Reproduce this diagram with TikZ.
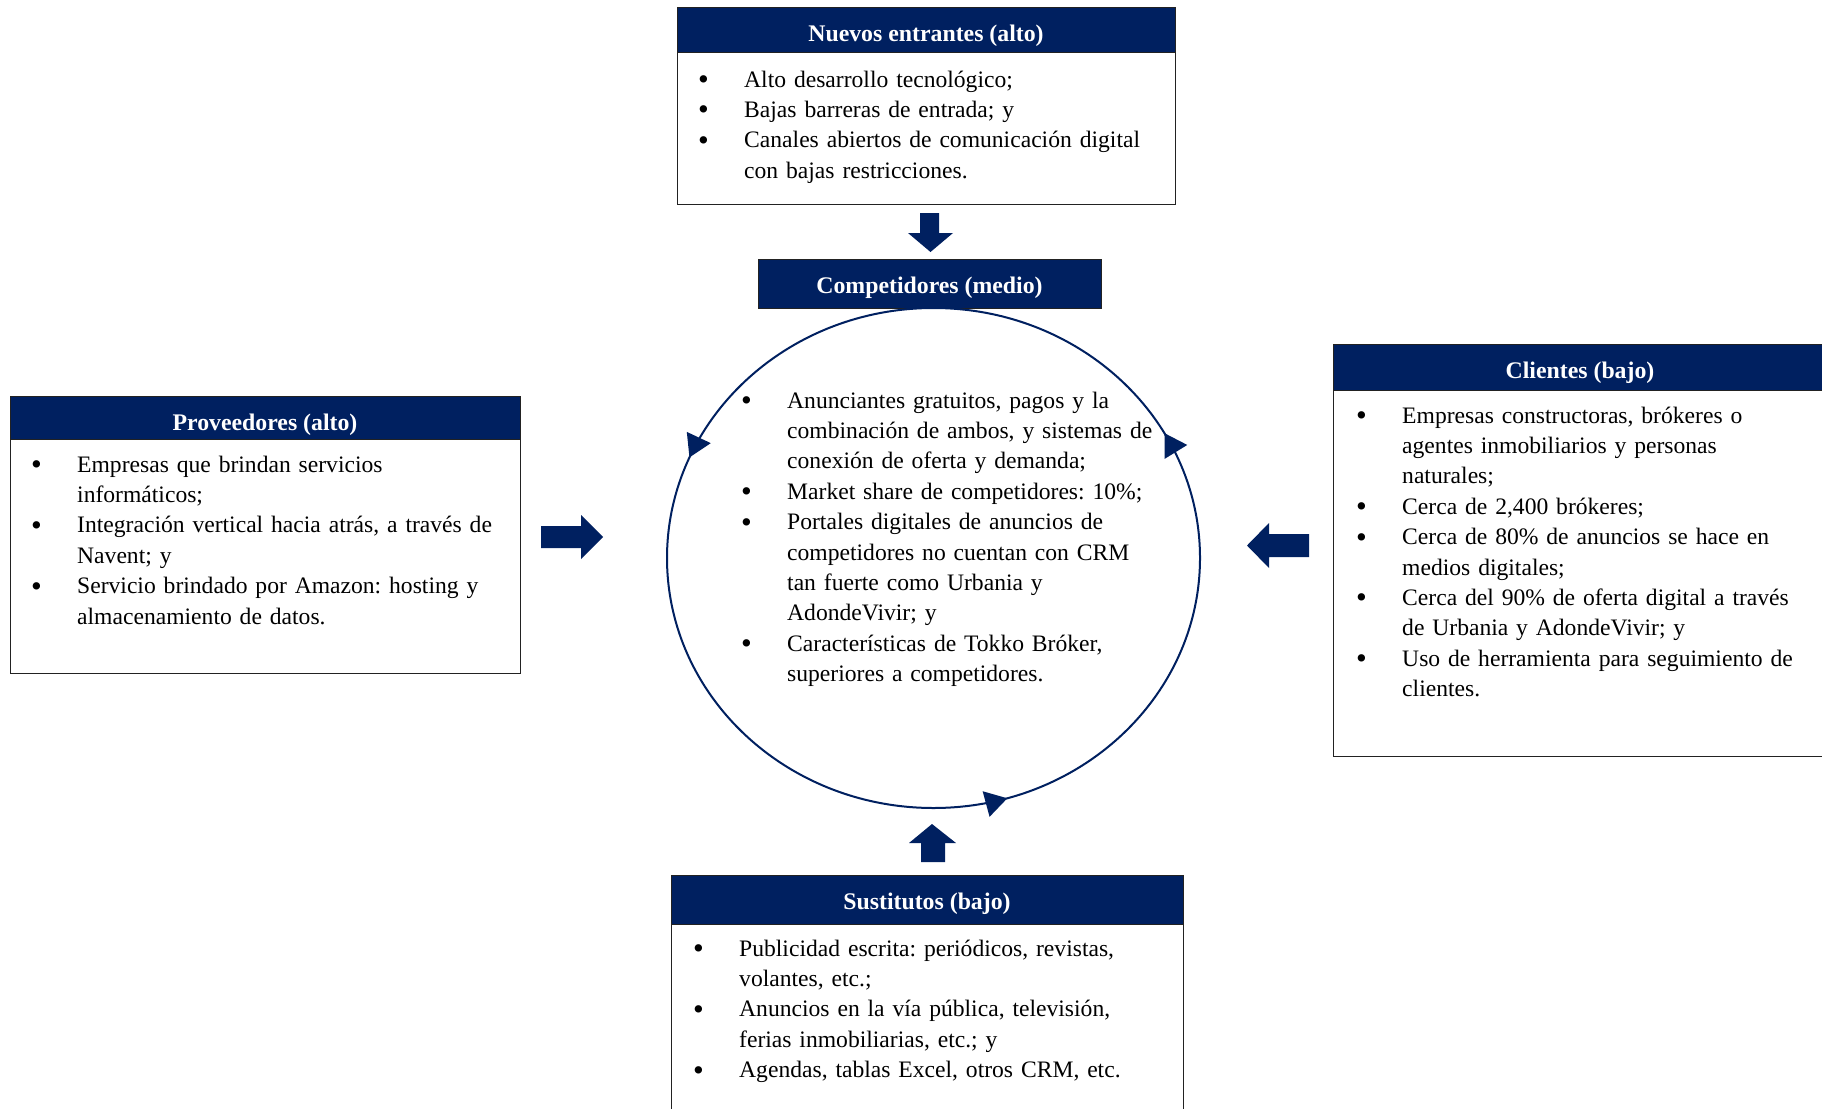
\documentclass[tikz,border=0pt]{standalone}
\usepackage{fontspec}
\setmainfont{Liberation Serif}
\usetikzlibrary{arrows.meta,decorations.markings}
\definecolor{navy}{HTML}{002060}
\definecolor{edge}{HTML}{222222}
\newcommand{\blt}{\makebox[46pt][l]{\raisebox{-2.5pt}{\scalebox{1.3}{\textbullet}}}}
\newcommand{\ind}{\hspace*{46pt}}
\frenchspacing
\begin{document}
\begin{tikzpicture}[x=1pt,y=-1pt,
  boxframe/.style={draw=edge,line width=1.3pt,fill=white,anchor=north west,inner sep=0pt},
  headbar/.style={draw=edge,line width=1.3pt,fill=navy,anchor=north west,inner sep=0pt},
  headtext/.style={anchor=base,text=white,inner sep=0pt,font=\fontsize{23.8}{26}\selectfont\bfseries},
  bodytext/.style={anchor=base west,inner sep=0pt,align=left,text width=560pt,font=\fontsize{23.6}{30.4}\selectfont\frenchspacing},
  blockarrow/.style={fill=navy,draw=none},
  cycletip/.style={decoration={markings,
     mark=at position 0.204 with {\arrowreversed{Triangle[length=22pt,width=26pt]}},
     mark=at position 0.564 with {\arrowreversed{Triangle[length=22pt,width=26pt]}},
     mark=at position 0.919 with {\arrowreversed{Triangle[length=22pt,width=26pt]}}},
     postaction={decorate}},
]
\clip (0,0) rectangle (1822,1108);
\fill[white] (0,0) rectangle (1822,1108);

% ---------- Nuevos entrantes ----------
\node[boxframe,minimum width=498pt,minimum height=197pt] (nbox) at (677,7) {};
\node[headbar,minimum width=498pt,minimum height=45pt] (nhead) at (677,7) {};
\node[headtext] (ntitle) at (926,42) {Nuevos entrantes (alto)};
\node[bodytext] (ntext) at (698,87) {%
\blt Alto desarrollo tecnológico;\\
\blt Bajas barreras de entrada; y\\
\blt Canales abiertos de comunicación digital\\
\ind con bajas restricciones.};

% ---------- Competidores ----------
\node[headbar,minimum width=343pt,minimum height=49pt] (chead) at (758,259) {};
\node[headtext] (ctitle) at (929.5,293) {Competidores (medio)};
\coordinate (cc) at (933.5,558);
\draw[navy,line width=2pt,cycletip] (cc) ellipse [x radius=266.5,y radius=250];
\node[bodytext] (ctext) at (741,408) {%
\blt Anunciantes gratuitos, pagos y la\\
\ind combinación de ambos, y sistemas de\\
\ind conexión de oferta y demanda;\\
\blt Market share de competidores: 10\%;\\
\blt Portales digitales de anuncios de\\
\ind competidores no cuentan con CRM\\
\ind tan fuerte como Urbania y\\
\ind AdondeVivir; y\\
\blt Características de Tokko Bróker,\\
\ind superiores a competidores.};

% ---------- Proveedores ----------
\node[boxframe,minimum width=510pt,minimum height=277pt] (pbox) at (10,396) {};
\node[headbar,minimum width=510pt,minimum height=43pt] (phead) at (10,396) {};
\node[headtext] (ptitle) at (265,430) {Proveedores (alto)};
\node[bodytext] (ptext) at (31,472) {%
\blt Empresas que brindan servicios\\
\ind informáticos;\\
\blt Integración vertical hacia atrás, a través de\\
\ind Navent; y\\
\blt Servicio brindado por Amazon: hosting y\\
\ind almacenamiento de datos.};

% ---------- Clientes ----------
\node[boxframe,minimum width=520pt,minimum height=412pt] (kbox) at (1333,344) {};
\node[headbar,minimum width=520pt,minimum height=46pt] (khead) at (1333,344) {};
\node[headtext] (ktitle) at (1580,378) {Clientes (bajo)};
\node[bodytext] (ktext) at (1356,423) {%
\blt Empresas constructoras, brókeres o\\
\ind agentes inmobiliarios y personas\\
\ind naturales;\\
\blt Cerca de 2,400 brókeres;\\
\blt Cerca de 80\% de anuncios se hace en\\
\ind medios digitales;\\
\blt Cerca del 90\% de oferta digital a través\\
\ind de Urbania y AdondeVivir; y\\
\blt Uso de herramienta para seguimiento de\\
\ind clientes.};

% ---------- Sustitutos ----------
\node[boxframe,minimum width=512pt,minimum height=260pt] (sbox) at (671,875) {};
\node[headbar,minimum width=512pt,minimum height=49pt] (shead) at (671,875) {};
\node[headtext] (stitle) at (927,909) {Sustitutos (bajo)};
\node[bodytext] (stext) at (693,956) {%
\blt Publicidad escrita: periódicos, revistas,\\
\ind volantes, etc.;\\
\blt Anuncios en la vía pública, televisión,\\
\ind ferias inmobiliarias, etc.; y\\
\blt Agendas, tablas Excel, otros CRM, etc.};

% ---------- block arrows ----------
\fill[blockarrow] (920,213) -- (939,213) -- (939,233) -- (953,233) -- (930.5,252) -- (908,233) -- (920,233) -- cycle;
\fill[blockarrow] (921,862) -- (945,862) -- (945,843) -- (956,843) -- (932,824) -- (909,843) -- (921,843) -- cycle;
\fill[blockarrow] (541,526) -- (581,526) -- (581,515) -- (603,537) -- (581,559) -- (581,548) -- (541,548) -- cycle;
\fill[blockarrow] (1309,534) -- (1269,534) -- (1269,523) -- (1247,545.5) -- (1269,568) -- (1269,557) -- (1309,557) -- cycle;
\end{tikzpicture}
\end{document}
